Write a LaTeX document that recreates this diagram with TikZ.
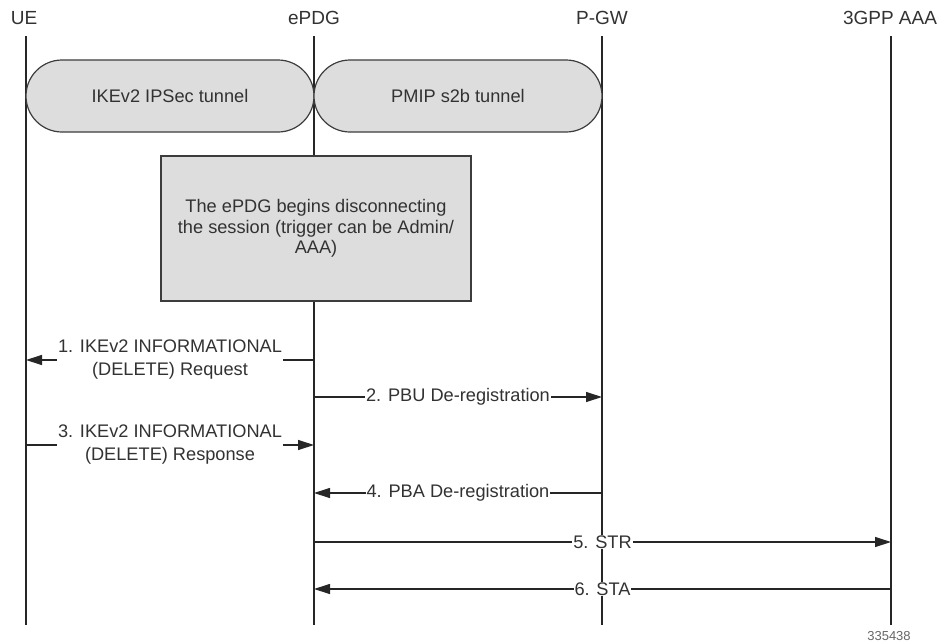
\documentclass[tikz,border=0pt]{standalone}
\usepackage{fontspec}
\setmainfont{Liberation Sans}
\usetikzlibrary{arrows.meta}

\definecolor{boxgray}{RGB}{221,221,221}
\definecolor{edgegray}{RGB}{60,60,60}
\definecolor{textgray}{RGB}{50,50,50}

\tikzset{
  header/.style={text=textgray, font=\fontsize{19}{22}\selectfont, inner sep=0pt},
  lifeline/.style={draw=black!85, line width=1.2pt},
  tunnel/.style={draw=edgegray, fill=boxgray, line width=1.2pt, rounded corners=36pt,
    minimum width=288pt, minimum height=72pt, text=textgray, font=\fontsize{18.2}{20}\selectfont},
  notebox/.style={draw=edgegray, fill=boxgray, line width=1.2pt, minimum width=310pt,
    minimum height=145pt, align=center, text=textgray, font=\fontsize{18.2}{20.5}\selectfont},
  msg/.style={draw=black!85, line width=1.2pt, -{Triangle[length=16pt,width=10pt]}},
  msglabel/.style={fill=white, text=textgray, inner sep=1pt, align=center,
    font=\fontsize{18.2}{23}\selectfont},
}

\begin{document}
\begin{tikzpicture}[x=1pt, y=-1pt]
  \useasboundingbox (0,0) rectangle (946,643);

  % --- Intestazioni ---
  \node[header] (ue)   at (24,18)  {UE};
  \node[header] (epdg) at (314,18) {ePDG};
  \node[header] (pgw)  at (602,18) {P-GW};
  \node[header] (aaa)  at (890,18) {3GPP AAA};

  % --- Linee di vita ---
  \foreach \n/\x in {ue/26, epdg/314, pgw/602, aaa/891} {
    \coordinate (\n-top) at (\x,36);
    \coordinate (\n-bot) at (\x,625);
    \draw[lifeline] (\n-top) -- (\n-bot);
  }

  % --- Tunnel ---
  \node[tunnel] (ike)  at (170,96) {IKEv2 IPSec tunnel};
  \node[tunnel] (pmip) at (458,96) {PMIP s2b tunnel};

  % --- Nota ePDG ---
  \node[notebox] (note) at (316,228.5)
    {The ePDG begins disconnecting\\the session (trigger can be Admin/\\AAA)};

  % --- Messaggi ---
  \draw[msg] (epdg-top |- 0,360) -- (ue-top |- 0,360)
    node[midway, msglabel] {1. IKEv2 INFORMATIONAL\\(DELETE) Request};
  \draw[msg] (epdg-top |- 0,397) -- (pgw-top |- 0,397)
    node[midway, msglabel] {2. PBU De-registration};
  \draw[msg] (ue-top |- 0,445) -- (epdg-top |- 0,445)
    node[midway, msglabel] {3. IKEv2 INFORMATIONAL\\(DELETE) Response};
  \draw[msg] (pgw-top |- 0,493) -- (epdg-top |- 0,493)
    node[midway, msglabel] {4. PBA De-registration};
  \draw[msg] (epdg-top |- 0,542) -- (aaa-top |- 0,542)
    node[midway, msglabel] {5. STR};
  \draw[msg] (aaa-top |- 0,589) -- (epdg-top |- 0,589)
    node[midway, msglabel] {6. STA};

  % --- Numero figura ---
  \node[text=black!60, font=\fontsize{13}{15}\selectfont, inner sep=0pt] (fignum)
    at (889,636) {335438};
\end{tikzpicture}
\end{document}
